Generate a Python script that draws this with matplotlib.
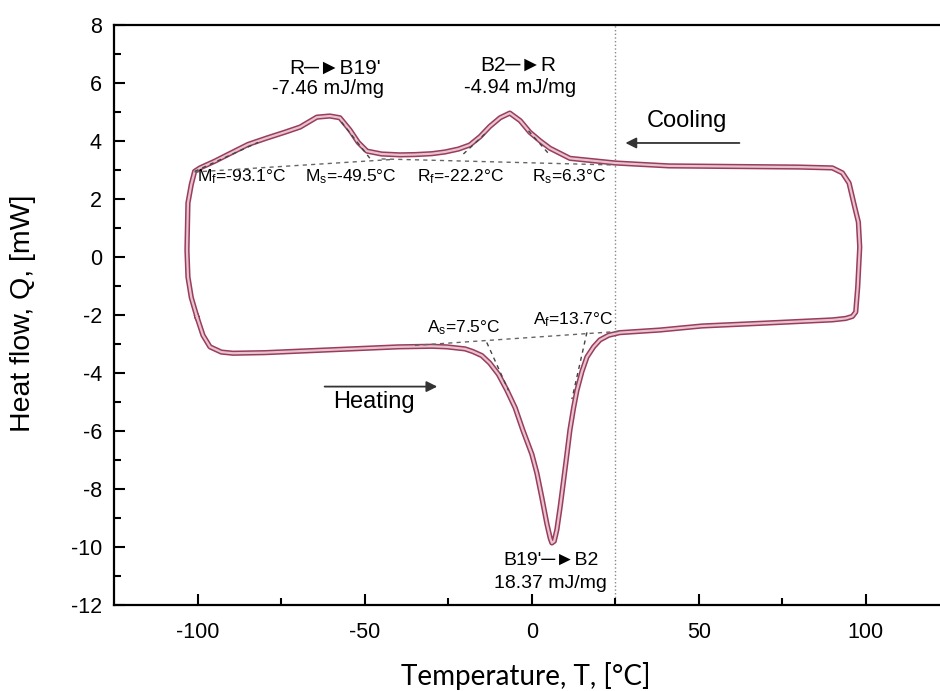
import numpy as np
import matplotlib
matplotlib.use('Agg')
import matplotlib.pyplot as plt

plt.rcParams['font.family'] = ['Liberation Sans', 'DejaVu Sans']
plt.rcParams['mathtext.fontset'] = 'custom'
plt.rcParams['mathtext.rm'] = 'Liberation Sans'
plt.rcParams['mathtext.it'] = 'Liberation Sans'
plt.rcParams['axes.unicode_minus'] = False

# DSC loop: heating (bottom, left->right), right turn, cooling (top, right->left), left turn
temp = [-100.3, -98.5, -96.4, -93, -89.5, -80, -70, -60, -50, -40, -30, -25.5, -20, -17.7,
        -15, -12.6, -10, -7.5, -5, -2.7, 0, 1.5, 3, 4.5, 5.5, 6, 6.7, 7.5, 8.5, 9.4, 10.4,
        11.4, 12.5, 13.5, 15, 16.5, 18.5, 20.4, 23, 26.3, 38.3, 51, 70, 90, 94, 96, 97,
        97.6, 98.2, 97.8, 96.7, 95, 93, 90, 80, 60, 41, 25, 11.4, 5.4, 2.5, -0.6, -3.5,
        -6.6, -9.5, -12.6, -15.5, -18.6, -22, -26, -30, -35, -39.5, -45, -49.4, -52,
        -54.5, -57.5, -60.5, -64.4, -69.4, -74, -79.4, -85, -89.5, -95, -99.4, -101,
        -102, -103, -103.3, -103, -102, -100.3]
heat = [-2.07, -2.7, -3.1, -3.28, -3.32, -3.3, -3.25, -3.2, -3.15, -3.1, -3.08, -3.1, -3.17,
        -3.26, -3.4, -3.66, -4.05, -4.59, -5.2, -5.97, -6.8, -7.45, -8.3, -9.2, -9.7, -9.86,
        -9.8, -9.4, -8.6, -7.8, -6.9, -5.97, -5.2, -4.6, -3.95, -3.45, -3.1, -2.86, -2.7,
        -2.61, -2.52, -2.38, -2.28, -2.17, -2.12, -2.05, -1.9, -1.03, 0.34, 1.2, 1.72, 2.55,
        2.9, 3.07, 3.1, 3.12, 3.14, 3.24, 3.4, 3.75, 4.0, 4.3, 4.7, 4.96, 4.8, 4.5, 4.15,
        3.86, 3.72, 3.62, 3.56, 3.53, 3.52, 3.55, 3.65, 3.95, 4.38, 4.8, 4.86, 4.82, 4.48,
        4.3, 4.1, 3.88, 3.62, 3.3, 3.07, 2.95, 2.5, 1.86, 0.24, -0.69, -1.4, -2.07]

# baselines used for onset temperatures
base_top1_t = [-101, -42]
base_top1_q = [2.93, 3.36]
base_top2_t = [-45, 25]
base_top2_q = [3.38, 3.17]
base_bot_t = [-35, 27]
base_bot_q = [-3.05, -2.56]

# tangents on the peak flanks
tangents = [
    ([-101, -82], [2.95, 3.95]),
    ([-57, -48.5], [4.65, 3.4]),
    ([-20.5, -14], [3.55, 4.25]),
    ([-1, 5.5], [4.35, 3.5]),
    ([-13.5, -7], [-2.95, -4.6]),
    ([16.5, 12], [-2.6, -4.9]),
]

fig = plt.figure(figsize=(9.4, 6.91), dpi=100)
ax = fig.add_axes([0.1218, 0.1245, 0.888, 0.8394])

ax.plot(temp, heat, color='#9a3d5c', lw=3.8, solid_joinstyle='round', zorder=3)
ax.plot(temp, heat, color='#e8c4d1', lw=1.6, solid_joinstyle='round', zorder=4)

for t, q in [(base_top1_t, base_top1_q), (base_top2_t, base_top2_q), (base_bot_t, base_bot_q)]:
    ax.plot(t, q, ls=(0, (3, 3)), color='#666666', lw=1.0, zorder=5)
for t, q in tangents:
    ax.plot(t, q, ls=(0, (3, 3)), color='#444444', lw=1.0, zorder=5)

ax.axvline(25, color='#888888', ls=':', lw=1.0, zorder=1)

# transformation labels
ax.text(-59, 6.5, u"R\u2500\u25baB19'", ha='center', va='center', fontsize=15)
ax.text(-61, 5.8, '-7.46 mJ/mg', ha='center', va='center', fontsize=14.5)
ax.text(-4.2, 6.6, u'B2\u2500\u25baR', ha='center', va='center', fontsize=15)
ax.text(-3.6, 5.85, '-4.94 mJ/mg', ha='center', va='center', fontsize=14.5)
ax.text(5.7, -10.45, u"B19'\u2500\u25baB2", ha='center', va='center', fontsize=14)
ax.text(5.7, -11.25, '18.37 mJ/mg', ha='center', va='center', fontsize=14)

# onset / finish temperatures
ax.text(-100.3, 2.76, u'M$_\\mathrm{f}$=-93.1\u00b0C', ha='left', va='center', fontsize=12.5)
ax.text(-68, 2.76, u'M$_\\mathrm{s}$=-49.5\u00b0C', ha='left', va='center', fontsize=12.5)
ax.text(-34.4, 2.76, u'R$_\\mathrm{f}$=-22.2\u00b0C', ha='left', va='center', fontsize=12.5)
ax.text(0, 2.76, u'R$_\\mathrm{s}$=6.3\u00b0C', ha='left', va='center', fontsize=12.5)
ax.text(-31.4, -2.45, u'A$_\\mathrm{s}$=7.5\u00b0C', ha='left', va='center', fontsize=12.5)
ax.text(0.3, -2.17, u'A$_\\mathrm{f}$=13.7\u00b0C', ha='left', va='center', fontsize=12.5)

# direction arrows
ax.text(46.4, 4.7, 'Cooling', ha='center', va='center', fontsize=17)
ax.annotate('', xy=(27.2, 3.93), xytext=(63, 3.93),
            arrowprops=dict(arrowstyle='-|>', color='#333333', lw=1.3, mutation_scale=16))
ax.text(-47.3, -5.0, 'Heating', ha='center', va='center', fontsize=17)
ax.annotate('', xy=(-27.5, -4.47), xytext=(-62.9, -4.47),
            arrowprops=dict(arrowstyle='-|>', color='#333333', lw=1.3, mutation_scale=16))

ax.set_xlim(-125, 125)
ax.set_ylim(-12, 8)
ax.set_xticks([-100, -50, 0, 50, 100])
ax.set_xticks([-75, -25, 25, 75], minor=True)
ax.set_yticks(np.arange(-12, 9, 2))
ax.set_yticks(np.arange(-11, 8, 2), minor=True)
ax.tick_params(which='both', direction='in', width=1.5, labelsize=15.5, top=False, right=False)
ax.tick_params(which='major', length=8)
ax.tick_params(which='minor', length=5)
ax.tick_params(axis='x', pad=12)
ax.tick_params(axis='y', pad=9)
for s in ['left', 'bottom', 'top']:
    ax.spines[s].set_linewidth(1.6)
ax.spines['right'].set_visible(False)

ax.set_xlabel(u'Temperature, T, [\u00b0C]', fontsize=20, family=['Lato', 'DejaVu Sans'])
ax.xaxis.set_label_coords(0.493, -0.098)
ax.set_ylabel('Heat flow, Q, [mW]', fontsize=20.5)
ax.yaxis.set_label_coords(-0.094, 0.503)

fig.savefig('out.png', dpi=100)
